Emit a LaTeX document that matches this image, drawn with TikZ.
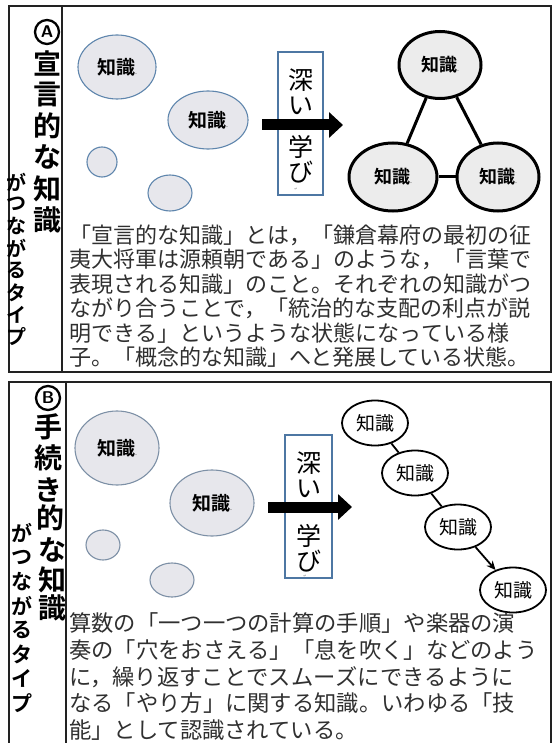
\documentclass[tikz,border=0pt]{standalone}
\usepackage{fontspec}
\usetikzlibrary{shapes.geometric,arrows.meta}
\newfontfamily\jp{Noto Sans CJK JP}[BoldFont={Noto Sans CJK JP Bold}]
\newfontfamily\dejavu{DejaVu Sans}
\XeTeXlinebreaklocale "ja"
\XeTeXlinebreakskip=0pt plus 8pt
\definecolor{frame}{HTML}{222222}
\definecolor{bubblefill}{HTML}{E7E7EC}
\definecolor{bubbleedge}{HTML}{5F86AD}
\definecolor{bubbleedgeB}{HTML}{7D90A6}
\definecolor{trifill}{HTML}{ECECEC}
\definecolor{boxedge}{HTML}{4E77A3}
\definecolor{bodytext}{HTML}{303030}
\tikzset{
  panel/.style={draw=frame, line width=2pt},
  bigchar/.style={font=\jp\bfseries\fontsize{28}{28}\selectfont, inner sep=0},
  smallchar/.style={font=\jp\bfseries\fontsize{20}{20}\selectfont, inner sep=0},
  smallcharB/.style={font=\jp\bfseries\fontsize{21}{21}\selectfont, inner sep=0},
  letterc/.style={circle, draw=black, line width=2.3pt, minimum size=24pt, inner sep=0, font=\sffamily\bfseries\fontsize{17}{17}\selectfont},
  bubble/.style={ellipse, draw=bubbleedge, fill=bubblefill, line width=1.1pt, inner sep=0, font=\jp\bfseries\fontsize{19}{19}\selectfont},
  tri/.style={ellipse, draw=black, fill=trifill, line width=3pt, inner sep=0, font=\jp\bfseries\fontsize{18}{18}\selectfont},
  chain/.style={ellipse, draw=black, fill=white, line width=1.8pt, inner sep=0, minimum width=66pt, minimum height=45pt, font=\jp\fontsize{19}{19}\selectfont},
  deepbox/.style={draw=boxedge, fill=white, line width=1.3pt},
  boxchar/.style={font=\jp\fontsize{25}{25}\selectfont, inner sep=0},
  tinymark/.style={font=\dejavu\fontsize{4}{4}\selectfont, text=gray, inner sep=0},
  bigarrow/.style={line width=11pt, -{Triangle[length=14pt, width=25pt]}},
  bodyA/.style={anchor=base west, inner sep=0, font=\jp\fontsize{22}{24}\selectfont, text=bodytext},
  bodyB/.style={anchor=base west, inner sep=0, font=\jp\fontsize{22.3}{24}\selectfont, text=bodytext},
  fullA/.style={bodyA, text width=479pt, align=justify},
  fullB/.style={bodyB, text width=472pt, align=justify}
}
\newcommand{\dotmark}{{\color{gray}\fontsize{6}{6}\selectfont.}}
\newcommand{\fullline}[1]{\noindent\parfillskip=0pt #1}
\begin{document}
\begin{tikzpicture}[x=1pt,y=-1pt]
\useasboundingbox (0,0) rectangle (558,743);
\fill[white] (0,0) rectangle (558,743);

% ---------- Panel A ----------
\draw[panel] (9,6) rectangle (551,372);
\draw[panel] (62,6) -- (62,372);

\node[letterc] (circA) at (47,32) {A};
\foreach \c [count=\i from 0] in {宣,言,的,な,知,識}
  \node[bigchar] (ta\i) at (47,63+31.4*\i) {\c};
\foreach \c [count=\i from 0] in {が,つ,な,が,る,タ,イ,プ}
  \node[smallchar] (sa\i) at (16,182+22.1*\i) {\c};

\node[bubble, minimum width=78pt, minimum height=64pt] (a1) at (117,67) {知識\dotmark};
\node[bubble, minimum width=80pt, minimum height=58pt] (a2) at (208,120) {知識\dotmark};
\node[bubble, minimum width=30pt, minimum height=30pt] (a3) at (102,162) {};
\node[bubble, minimum width=44pt, minimum height=36pt] (a4) at (170,193) {};

\draw[deepbox] (278,52) rectangle (323,195);
\node[boxchar] (da1) at (300.5,80) {深};
\node[boxchar] (da2) at (300.5,106) {い};
\node[boxchar] (da3) at (300.5,147) {学};
\node[boxchar] (da4) at (300.5,172) {び};
\node[tinymark] (ma) at (296,189.5) {↵};

\coordinate (arA1) at (262,125);
\coordinate (arA2) at (343,125);
\draw[bigarrow] (arA1) -- (arA2);

\node[tri, minimum width=82pt, minimum height=67pt] (t1) at (440,65) {知識\dotmark};
\node[tri, minimum width=88pt, minimum height=68pt] (t2) at (393,177) {知識\dotmark};
\node[tri, minimum width=82pt, minimum height=68pt] (t3) at (498,177) {知識\dotmark};
\draw[line width=3pt] (t1) -- (t2);
\draw[line width=3pt] (t1) -- (t3);
\draw[line width=3pt] (t2) -- (t3);

\node[fullA] (pa1) at (69,243.4) {\fullline{「宣言的な知識」とは，「鎌倉幕府の最初の征}};
\node[fullA] (pa2) at (69,267.9) {\fullline{夷大将軍は源頼朝である」のような，「言葉で}};
\node[fullA] (pa3) at (69,292.4) {\fullline{表現される知識」のこと。それぞれの知識がつ}};
\node[fullA] (pa4) at (69,316.9) {\fullline{ながり合うことで，「統治的な支配の利点が説}};
\node[fullA] (pa5) at (69,341.4) {\fullline{明できる」というような状態になっている様}};
\node[bodyA] (pa6) at (69,365.4) {子。「概念的な知識」へと発展している状態。};

% ---------- Panel B ----------
\draw[panel] (9,382) rectangle (551,760);
\draw[panel] (66,382) -- (66,760);

\node[letterc] (circB) at (48,398) {B};
\node[bigchar] (tb0) at (48,427) {手};
\node[bigchar] (tb1) at (48,458) {続};
\node[bigchar] (tb2) at (48,490) {き};
\node[bigchar] (tb3) at (50,518) {的};
\node[bigchar] (tb4) at (52,550) {な};
\node[bigchar] (tb5) at (52,580) {知};
\node[bigchar] (tb6) at (52,608) {識};
\foreach \c [count=\i from 0] in {が,つ,な,が,る,タ,イ,プ}
  \node[smallcharB] (sb\i) at (22,533+24.3*\i) {\c};

\node[bubble, draw=bubbleedgeB, minimum width=84pt, minimum height=74pt] (b1) at (117,448) {知識\dotmark};
\node[bubble, draw=bubbleedgeB, minimum width=84pt, minimum height=66pt] (b2) at (212,503) {知識\dotmark};
\node[bubble, draw=bubbleedgeB, minimum width=34pt, minimum height=30pt] (b3) at (103,545) {};
\node[bubble, draw=bubbleedgeB, minimum width=44pt, minimum height=34pt] (b4) at (172,580) {};

\draw[deepbox] (285,435) rectangle (332,578);
\node[boxchar] (db1) at (308.5,463) {深};
\node[boxchar] (db2) at (308.5,489) {い};
\node[boxchar] (db3) at (308.5,536) {学};
\node[boxchar] (db4) at (308.5,561) {び};
\node[tinymark] (mb) at (305,576) {↵};

\coordinate (arB1) at (268,507);
\coordinate (arB2) at (352,507);
\draw[bigarrow] (arB1) -- (arB2);

\node[chain] (c1) at (375,423) {知識};
\node[chain] (c2) at (415,473) {知識};
\node[chain] (c3) at (458,527) {知識};
\node[chain] (c4) at (513,590) {知識};
\draw[line width=1.8pt] (c1) -- (c2);
\draw[line width=1.8pt] (c2) -- (c3);
\draw[line width=1.8pt, -{Stealth[length=9pt, width=8pt]}] (c3) -- (c4);

\node[fullB] (pb1) at (69,631.5) {\fullline{算数の「一つ一つの計算の手順」や楽器の演}};
\node[fullB] (pb2) at (69,658.5) {\fullline{奏の「穴をおさえる」「息を吹く」などのよう}};
\node[fullB] (pb3) at (69,685.5) {\fullline{に，繰り返すことでスムーズにできるように}};
\node[fullB] (pb4) at (69,711.5) {\fullline{なる「やり方」に関する知識。いわゆる「技}};
\node[bodyB] (pb5) at (69,738.5) {能」として認識されている。};
\end{tikzpicture}
\end{document}
